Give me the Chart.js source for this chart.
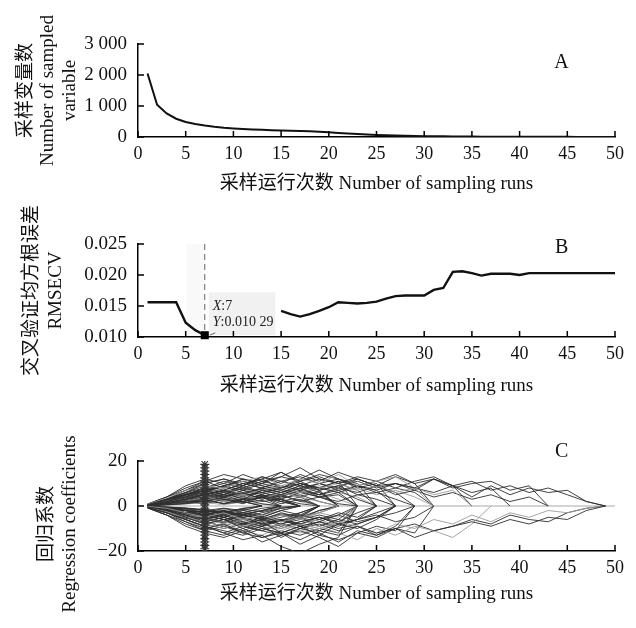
<!DOCTYPE html>
<html>
<head>
<meta charset="utf-8">
<script src="https://cdn.jsdelivr.net/npm/chart.js@4.4.1/dist/chart.umd.min.js"></script>
<style>
  html, body { margin: 0; padding: 0; background: #fff; }
  #wrap { position: relative; width: 636px; height: 628px; }
  canvas { position: absolute; left: 0; }
</style>
</head>
<body>
<div id="wrap">
  <canvas id="graph_a" width="636" height="200" style="top:0"></canvas>
  <canvas id="graph_b" width="636" height="200" style="top:200px"></canvas>
  <canvas id="graph_c" width="636" height="228" style="top:400px"></canvas>
</div>
<script>
// --- data ---
const runs = [1, 2, 3, 4, 5, 6, 7, 8, 9, 10, 11, 12, 13, 14, 15, 16, 17, 18, 19, 20,
  21, 22, 23, 24, 25, 26, 27, 28, 29, 30, 31, 32, 33, 34, 35, 36, 37, 38, 39, 40,
  41, 42, 43, 44, 45, 46, 47, 48, 49, 50];

// A: number of sampled variables
const sampledVars = [2050, 1040, 760, 590, 485, 420, 370, 330, 300, 278, 258, 242, 230, 220, 212, 203, 193, 182, 168, 150,
  132, 115, 98, 82, 66, 55, 46, 39, 33, 28, 24, 21, 18, 16, 14, 12, 11, 10, 9, 8,
  7, 6, 6, 5, 5, 4, 4, 3, 3, 2];

// B: RMSECV (runs 8-14 are hidden behind the data tip)
const rmsecv = [0.0156, 0.0156, 0.0156, 0.0156, 0.0123, 0.0111, 0.01029, null, null, null,
  null, null, null, null, 0.0142, 0.0137, 0.0133, 0.0137, 0.0142, 0.0148,
  0.0156, 0.0155, 0.0154, 0.0155, 0.0157, 0.0162, 0.0166, 0.0167, 0.0167, 0.0167,
  0.0176, 0.0179, 0.0205, 0.0206, 0.0203, 0.0199, 0.0202, 0.0202, 0.0202, 0.0200,
  0.0203, 0.0203, 0.0203, 0.0203, 0.0203, 0.0203, 0.0203, 0.0203, 0.0203, 0.0203];
const bestRun = 7;
const bestRmsecv = 0.01029;

// C: regression coefficient paths, sampled every second run
const coefRuns = [1, 3, 5, 7, 9, 11, 13, 15, 17, 19, 21, 23, 25, 27, 29, 31, 33, 35, 37, 39, 41, 43, 45, 47, 49];
const coefPaths = [
  [0.5, 2, 4, 7, 5, 9, 6, 8, 11, 7, 9, 5, 6, 3, 0],
  [-0.4, -2, -5, -8, -6, -10, -7, -12, -9, -13, -8, -10, -6, 0],
  [0.3, 1.5, 3, 4, 6, 3, 7, 5, 8, 4, 6, 0],
  [-0.2, -1, -3, -5, -3, -6, -4, -7, -5, -3, 0],
  [0.6, 3, 6, 10, 12, 9, 13, 10, 14, 11, 15, 12, 9, 10, 8, 12, 9, 11, 7, 9, 6, 8, 5, 2, 0],
  [-0.6, -3, -6, -9, -11, -13, -10, -12, -15, -11, -13, -9, -12, -10, -14, -11, -9, -7, -9, -6, -8, -5, -6, -2, 0],
  [0.2, 1, 2, 3, 5, 2, 4, 1, 3, 0],
  [-0.3, -1.5, -2, -4, -2, -5, -3, -1, 0],
  [0.8, 3.5, 7, 9, 8, 11, 13, 9, 12, 10, 14, 9, 11, 13, 8, 0],
  [-0.7, -3, -7, -10, -8, -12, -9, -14, -10, -12, -16, -11, -13, -9, 0],
  [0.1, 0.5, 1, 2, 4, 6, 3, 5, 2, 4, 1, 0],
  [-0.1, -0.5, -1, -2, -1, -3, -5, -2, -4, 0],
  [0.4, 2, 4, 6, 9, 7, 10, 8, 12, 16, 12, 9, 11, 14, 10, 12, 8, 10, 11, 7, 9, 0],
  [-0.5, -2.5, -5, -7, -9, -6, -10, -8, -11, -9, -12, -15, -10, -13, -9, -11, -14, -8, 0],
  [0.3, 1, 3, 5, 3, 1, 4, 2, 0],
  [-0.2, -2, -4, -6, -4, -7, -9, -6, -8, -5, -7, -3, 0],
  [0.7, 4, 8, 11, 8, 12, 10, 15, 11, 13, 10, 12, 9, 13, 10, 0],
  [-0.8, -4, -8, -11, -13, -10, -14, -12, -17, -13, -15, -12, -14, -10, -12, 0],
  [0.5, 2, 4, 6, 8, 5, 7, 9, 6, 8, 10, 7, 9, 6, 8, 5, 7, 0],
  [-0.4, -2, -3, -4, -6, -8, -5, -7, -4, -6, -3, -5, 0],
  [0.2, 1, 2, 1, 3, 2, 4, 0],
  [-0.1, -1, -2, -3, -1, -2, 0],
  [0.6, 3, 5, 8, 6, 9, 12, 8, 10, 7, 9, 11, 8, 10, 7, 12, 9, 6, 8, 0],
  [-0.6, -3, -5, -8, -10, -7, -9, -11, -8, -10, -7, -9, -12, -8, -10, -6, -8, -4, -7, -3, -5, -2, -3, -1, 0],
  [0.3, 1.5, 3, 5, 7, 10, 8, 6, 9, 7, 0],
  [-0.3, -1, -2, -4, -6, -5, -8, -6, -9, -7, -4, 0],
  [0.9, 4, 9, 12, 10, 14, 11, 13, 17, 12, 10, 13, 11, 8, 11, 13, 9, 0],
  [-0.9, -4, -9, -12, -14, -11, -16, -13, -11, -14, -18, -12, -9, -11, 0],
  [0.1, 1, 2, 4, 2, 5, 3, 6, 4, 2, 0],
  [-0.2, -1, -3, -2, -4, -3, -5, -2, 0],
  [0.4, 2, 5, 7, 5, 8, 6, 4, 7, 5, 8, 6, 9, 5, 7, 4, 6, 3, 5, 2, 4, 0],
  [-0.5, -2, -4, -7, -5, -8, -6, -9, -7, -5, -8, -6, -4, -7, -5, 0],
  [0.5, 3, 5, 6, 9, 11, 9, 7, 10, 8, 6, 9, 7, 0],
  [-0.3, -2, -4, -5, -7, -9, -7, -10, -8, -6, -9, 0],
  [0.2, 1, 1.5, 3, 1, 2, 0],
  [-0.4, -2, -3, -6, -3, -4, -2, 0],
  [0.6, 3, 6, 9, 7, 10, 12, 15, 10, 8, 11, 9, 7, 10, 8, 6, 9, 4, 9, 5, 8, 6, 7, 2, 0],
  [-0.7, -3, -6, -9, -12, -9, -11, -13, -10, -8, -11, -9, -13, -10, -8, -11, -9, -6, -8, -4, -6, -7, -3, -1, 0],
  [0.3, 1, 2, 3, 2, 4, 3, 5, 2, 0],
  [-0.2, -1, -2, -3, -5, -3, -1, 0],
  [-0.5, -3, -6, -9, -12, -15, -13, -18, -21, -17, -14, 0],
  [0.4, 2, 5, 8, 11, 9, 13, 11, 9, 12, 10, 7, 0],
  [0.3, 2, 4, 6, 4, 7, 5, 3, 6, 4, 2, 5, 3, 0],
  [-0.3, -2, -4, -6, -8, -5, -7, -4, -6, -3, -5, 0],
  [0.5, 2.5, 5, 8, 10, 8, 11, 9, 7, 10, 8, 12, 9, 6, 0],
  [-0.5, -2.5, -5, -8, -6, -9, -11, -8, -10, -7, -9, -6, 0],
  [0.2, 1.5, 3, 5, 7, 5, 8, 6, 9, 6, 0],
  [-0.2, -1.5, -3, -4, -2, -4, -6, -3, -5, -2, 0],
  [0.4, 2, 3, 5, 3, 6, 8, 5, 7, 9, 6, 8, 5, 7, 4, 0],
  [-0.4, -2, -4, -5, -7, -4, -6, -8, -5, -9, -6, -8, -5, 0],
  [0.1, 0.8, 2, 3, 1, 3, 5, 2, 4, 0],
  [-0.1, -0.8, -1.5, -3, -5, -2, -4, -1, 0],
  [0.7, 3, 7, 10, 12, 10, 8, 11, 13, 10, 12, 8, 10, 0],
  [-0.7, -3, -6, -10, -8, -11, -13, -9, -12, -10, -8, 0],
  [0.3, 1.5, 2, 4, 2, 3, 1, 0],
  [-0.3, -1.5, -3, -2, -3, -1, 0],
  [0.5, 2, 4, 7, 9, 7, 4, 6, 8, 5, 7, 3, 0],
  [-0.5, -2, -4, -7, -9, -11, -8, -6, -9, -7, -10, -8, -5, 0],
  [0.2, 1, 3, 4, 6, 8, 6, 9, 7, 5, 0],
  [-0.2, -1, -3, -5, -3, -5, -7, -5, -3, 0],
  [0.6, 3, 6, 8, 6, 4, 7, 5, 8, 10, 7, 9, 6, 8, 6, 0],
  [-0.6, -3, -5, -7, -9, -6, -8, -10, -7, -5, -8, -6, -3, 0],
  [0.4, 2, 4, 5, 4, 2, 5, 3, 0],
  [-0.4, -2, -4, -5, -3, -6, -4, 0],
  [0.8, 4, 7, 11, 14, 12, 10, 13, 11, 14, 12, 10, 0],
  [-0.8, -4, -7, -11, -9, -12, -14, -11, -13, -10, -12, 0],
  [0.1, 1, 2, 2, 4, 2, 0],
  [-0.1, -1, -1, -3, -2, -4, -2, 0],
  [0.3, 2, 4, 7, 5, 8, 10, 7, 5, 8, 6, 4, 0],
  [-0.3, -2, -4, -6, -4, -7, -9, -6, -8, -6, -4, -7, -5, -3, 0],
  [0.5, 3, 5, 7, 9, 12, 9, 7, 10, 8, 11, 0],
  [-0.5, -3, -5, -8, -10, -8, -10, -12, -9, -11, -8, 0],
  [0.2, 1.2, 2.5, 3.5, 2.5, 4, 2, 3, 1, 0],
  [-0.2, -1.2, -2.5, -3.5, -5, -3, -4, -2, 0],
  [0.4, 1.8, 3.5, 5, 6.5, 4.5, 6, 3.5, 5, 2, 0],
  [-0.4, -1.8, -3.5, -5, -3.5, -6, -4.5, -6.5, -3, 0],
  [0.1, 0.6, 1.2, 2.5, 3.5, 1.5, 2.5, 0],
  [-0.1, -0.6, -1.2, -1.8, -3, -1.5, -2.5, -0.5, 0],
  [0.3, 1.4, 3, 4.5, 6, 7.5, 5.5, 7, 4.5, 6, 3, 0],
  [-0.3, -1.4, -3, -4.5, -6, -4, -5.5, -7, -5, -3, 0],
  [0.5, 2.2, 4.5, 6, 4.5, 5.5, 3.5, 4.5, 2.5, 0],
  [-0.5, -2.2, -4.5, -6, -7.5, -5.5, -6.5, -4, -5.5, -2, 0],
  [0.2, 0.9, 1.8, 2.2, 1.2, 2.8, 4, 2, 0],
  [-0.2, -0.9, -1.8, -2.8, -1.5, -3.2, -2, 0],
  [0.6, 2.8, 5.5, 7, 8.5, 6, 7.5, 5, 6.5, 4, 5, 0],
  [-0.6, -2.8, -5.5, -7, -5, -7.5, -9, -6.5, -5, 0],
  [0.3, 1, 2.2, 3.8, 5.2, 3.4, 4.6, 2.8, 0],
  [-0.3, -1, -2.2, -3.8, -2.5, -4.2, -5.8, -3.5, -4.5, 0],
  [0.1, 0.4, 0.9, 1.5, 0.6, 1.8, 0.8, 0],
  [-0.1, -0.4, -0.9, -1.5, -2.5, -1.2, 0],
  [0.4, 2, 3.8, 5.5, 7, 5.5, 8, 6, 4, 6.5, 0],
  [-0.4, -2, -3.8, -5.5, -7, -8.5, -6, -8, -6, -4, -6, 0]
];
// asterisks marking the coefficients at the best run
const starValues = [-19, -17.5, -16, -14.5, -13, -11.5, -10, -8.5, -7, -5.5, -4, -2.5, -1,
  0.5, 2, 3.5, 5, 6.5, 8, 9.5, 11, 12.5, 14, 15.5, 17, 18.5];

const FONT = "'Liberation Serif', 'Noto Sans CJK SC', serif";
const X_TITLE = '采样运行次数 Number of sampling runs';

// ticks point inwards in the original, plus the panel letter
const inwardTicks = {
  id: 'inwardTicks',
  afterDraw(chart) {
    const {ctx, chartArea: a} = chart;
    const xs = chart.scales.x, ys = chart.scales.y;
    ctx.save();
    ctx.strokeStyle = '#000';
    ctx.lineWidth = 1.5;
    ctx.beginPath();
    xs.ticks.forEach(t => {
      const p = xs.getPixelForValue(t.value);
      ctx.moveTo(p, a.bottom); ctx.lineTo(p, a.bottom - 6);
    });
    ys.ticks.forEach(t => {
      const p = ys.getPixelForValue(t.value);
      ctx.moveTo(a.left, p); ctx.lineTo(a.left + 6, p);
    });
    ctx.stroke();
    const lbl = chart.options.plugins.panelLabel;
    if (lbl) {
      ctx.fillStyle = '#111';
      ctx.font = '20px ' + FONT;
      ctx.textAlign = 'center';
      ctx.textBaseline = 'middle';
      ctx.fillText(lbl.text, a.left + (a.right - a.left) * 0.888, a.top + lbl.dy);
    }
    ctx.restore();
  }
};

function xAxis(h, padBottom) {
  return {
    type: 'linear', min: 0, max: 50,
    ticks: {stepSize: 5, padding: -2, maxRotation: 0, color: '#111', font: {family: FONT, size: 18, lineHeight: 1.2}},
    grid: {display: false},
    border: {color: '#000', width: 1.5},
    title: {display: true, text: X_TITLE, color: '#111', font: {family: FONT, size: 19, lineHeight: 1.2},
      padding: {top: 0, bottom: padBottom}},
    afterFit: s => { s.height = h; }
  };
}

function yAxis(min, max, step, title, lh, padTop, fmt) {
  return {
    min: min, max: max,
    ticks: {stepSize: step, padding: 3, color: '#111', font: {family: FONT, size: 19}, callback: fmt},
    grid: {display: false},
    border: {color: '#000', width: 1.5},
    title: {display: title !== null, text: title || '', color: '#111', font: {family: FONT, size: 19, lineHeight: lh},
      padding: {top: padTop, bottom: 0}},
    afterFit: s => { s.width = 138; }
  };
}

function baseOptions(layoutTop, xa, ya, label, dy) {
  return {
    responsive: false,
    animation: false,
    layout: {padding: {top: layoutTop, left: 0, right: 21, bottom: 0}},
    plugins: {legend: {display: false}, tooltip: {enabled: false}, panelLabel: {text: label, dy: dy}},
    scales: {x: xa, y: ya}
  };
}

// A
let graph_a = new Chart(document.getElementById('graph_a'), {
  type: 'line',
  data: {
    labels: runs,
    datasets: [{
      data: sampledVars.map((v, i) => ({x: runs[i], y: v})),
      borderColor: '#111', borderWidth: 2, pointRadius: 0, fill: false, tension: 0
    }]
  },
  options: baseOptions(44,
    xAxis(63, 5),
    yAxis(0, 3000, 1000, ['采样变量数', 'Number of sampled', 'variable'], 1.15, 15,
      v => v >= 1000 ? String(v).replace(/\B(?=(\d{3})+$)/, ' ') : v),
    'A', 19),
  plugins: [inwardTicks]
});

// B — data tip at the minimum
const bestMark = {
  id: 'bestMark',
  beforeDatasetsDraw(chart) {
    const {ctx, chartArea: a} = chart;
    const xs = chart.scales.x, ys = chart.scales.y;
    const px = xs.getPixelForValue(bestRun);
    ctx.save();
    ctx.fillStyle = '#f9f9f9';
    ctx.fillRect(px - 18, a.top, 18, a.bottom - a.top - 1);
    ctx.fillStyle = '#f1f1f1';
    const bx = px + 4, bw = xs.getPixelForValue(14.4) - bx;
    const by = ys.getPixelForValue(0.0172);
    ctx.fillRect(bx, by, bw, a.bottom - by - 2);
    ctx.restore();
  },
  afterDatasetsDraw(chart) {
    const {ctx, chartArea: a} = chart;
    const xs = chart.scales.x, ys = chart.scales.y;
    const px = xs.getPixelForValue(bestRun), py = ys.getPixelForValue(bestRmsecv);
    const bx = px + 4, by = ys.getPixelForValue(0.0172);
    ctx.save();
    ctx.strokeStyle = '#666';
    ctx.lineWidth = 1;
    ctx.setLineDash([6, 4]);
    ctx.beginPath();
    ctx.moveTo(px, a.top); ctx.lineTo(px, a.bottom);
    ctx.moveTo(px + 5, py); ctx.lineTo(px + 12, py - 3);
    ctx.stroke();
    ctx.setLineDash([]);
    ctx.fillStyle = '#000';
    ctx.fillRect(px - 4, py - 4, 8, 8);
    ctx.fillStyle = '#222';
    ctx.textBaseline = 'middle';
    const tx = bx + 4;
    const rows = [['X', ':' + bestRun], ['Y', ':' + bestRmsecv.toFixed(5).replace(/(\.\d{3})/, '$1 ')]];
    rows.forEach((r, i) => {
      const ty = by + 14 + i * 16;
      ctx.font = 'italic 14px ' + FONT;
      ctx.fillText(r[0], tx, ty);
      const w = ctx.measureText(r[0]).width;
      ctx.font = '14px ' + FONT;
      ctx.fillText(r[1], tx + w, ty);
    });
    ctx.restore();
  }
};

let graph_b = new Chart(document.getElementById('graph_b'), {
  type: 'line',
  data: {
    labels: runs,
    datasets: [{
      data: rmsecv.map((v, i) => ({x: runs[i], y: v})),
      borderColor: '#111', borderWidth: 2.4, pointRadius: 0, fill: false, tension: 0, spanGaps: false
    }]
  },
  options: baseOptions(44,
    xAxis(63, 3),
    yAxis(0.010, 0.025, 0.005, ['交叉验证均方根误差', 'RMSECV'], 1.25, 20,
      v => v.toFixed(3)),
    'B', 4),
  plugins: [bestMark, inwardTicks]
});

// C — the y title sits lower than the axis centre in the original, so it is drawn here
const cTitle = {
  id: 'cTitle',
  afterDraw(chart) {
    const {ctx} = chart;
    ctx.save();
    ctx.fillStyle = '#111';
    ctx.font = '19px ' + FONT;
    ctx.textAlign = 'center';
    ctx.textBaseline = 'middle';
    [['回归系数', 47], ['Regression coefficients', 70]].forEach(r => {
      ctx.save();
      ctx.translate(r[1], 124);
      ctx.rotate(-Math.PI / 2);
      ctx.fillText(r[0], 0, 0);
      ctx.restore();
    });
    ctx.restore();
  }
};

const coefSets = [{
  type: 'scatter',
  data: starValues.map(v => ({x: bestRun, y: v})),
  pointStyle: 'star', pointRadius: 4.5, borderColor: '#333', borderWidth: 1.1, showLine: false
}];
coefPaths.forEach((p, i) => {
  coefSets.push({
    data: p.map((v, k) => ({x: coefRuns[k], y: v})),
    borderColor: i % 5 === 3 ? '#9c9c9c' : '#2e2e2e',
    borderWidth: 0.9, pointRadius: 0, fill: false, tension: 0
  });
});
coefSets.push({
  data: [{x: 1, y: 0}, {x: 50, y: 0}],
  borderColor: '#a8a8a8', borderWidth: 1, pointRadius: 0, fill: false
});

let graph_c = new Chart(document.getElementById('graph_c'), {
  type: 'line',
  data: {datasets: coefSets},
  options: baseOptions(61,
    xAxis(77, 23),
    yAxis(-20, 20, 20, null, 1.25, 0,
      v => v < 0 ? '\u2212' + Math.abs(v) : v),
    'C', -9),
  plugins: [cTitle, inwardTicks]
});
</script>
</body>
</html>
